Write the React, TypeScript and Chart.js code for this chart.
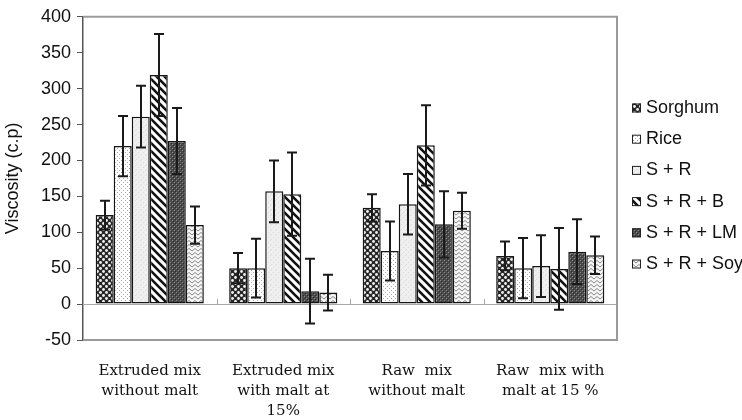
import React, { useEffect, useRef } from 'react';
import { Chart, registerables } from 'chart.js';

Chart.register(...registerables);

const categories: string[][] = [
  ['Extruded mix', 'without malt'],
  ['Extruded mix', 'with malt at', '15%'],
  ['Raw  mix', 'without malt'],
  ['Raw  mix with', 'malt at 15 %'],
];

const seriesNames = ['Sorghum', 'Rice', 'S + R', 'S + R + B', 'S + R + LM', 'S + R + Soy'];

const sorghum = [124, 50, 134, 67];
const sorghumErr = [20, 21, 19, 20];
const rice = [220, 50, 74, 50];
const riceErr = [42, 41, 41, 42];
const sr = [261, 157, 139, 53];
const srErr = [43, 43, 42, 43];
const srb = [319, 153, 221, 49];
const srbErr = [57, 58, 56, 57];
const srlm = [227, 18, 111, 73];
const srlmErr = [46, 45, 46, 45];
const srsoy = [110, 16, 130, 68];
const srsoyErr = [26, 25, 25, 26];

const yTicks = [-50, 0, 50, 100, 150, 200, 250, 300, 350, 400];

const seriesValues = [sorghum, rice, sr, srb, srlm, srsoy];
const seriesErrors = [sorghumErr, riceErr, srErr, srbErr, srlmErr, srsoyErr];

function makePattern(w: number, h: number, draw: (g: CanvasRenderingContext2D) => void) {
  const c = document.createElement('canvas');
  c.width = w;
  c.height = h;
  const g = c.getContext('2d') as CanvasRenderingContext2D;
  draw(g);
  return g.createPattern(c, 'repeat') as CanvasPattern;
}

function buildPatterns() {
  const sorghumP = makePattern(6, 6, (g) => {
    g.fillStyle = '#262626';
    g.fillRect(0, 0, 6, 6);
    g.fillStyle = '#f2f2f2';
    g.beginPath();
    g.arc(1.5, 1.5, 1.4, 0, Math.PI * 2);
    g.fill();
    g.beginPath();
    g.arc(4.5, 4.5, 1.4, 0, Math.PI * 2);
    g.fill();
  });
  const riceP = makePattern(4, 4, (g) => {
    g.fillStyle = '#ffffff';
    g.fillRect(0, 0, 4, 4);
    g.fillStyle = '#dc8ea2';
    g.fillRect(1, 0, 1, 1);
    g.fillRect(3, 2, 1, 1);
  });
  const srP = makePattern(5, 5, (g) => {
    g.fillStyle = '#efefef';
    g.fillRect(0, 0, 5, 5);
    g.fillStyle = '#dcdcdc';
    g.fillRect(0, 0, 1, 1);
    g.fillRect(3, 2, 1, 1);
    g.fillRect(1, 4, 1, 1);
  });
  const srbP = makePattern(8, 8, (g) => {
    g.fillStyle = '#ffffff';
    g.fillRect(0, 0, 8, 8);
    g.strokeStyle = '#111111';
    g.lineWidth = 2.6;
    g.beginPath();
    g.moveTo(-2, -2);
    g.lineTo(10, 10);
    g.moveTo(-2, 6);
    g.lineTo(2, 10);
    g.moveTo(6, -2);
    g.lineTo(10, 2);
    g.stroke();
  });
  const lmP = makePattern(4, 4, (g) => {
    g.fillStyle = '#4c4c4c';
    g.fillRect(0, 0, 4, 4);
    g.fillStyle = '#8c8c8c';
    g.fillRect(0, 0, 1, 1);
    g.fillRect(2, 2, 1, 1);
    g.fillStyle = '#2a2a2a';
    g.fillRect(1, 1, 1, 1);
    g.fillRect(3, 3, 1, 1);
  });
  const soyP = makePattern(6, 4, (g) => {
    g.fillStyle = '#f6f6f6';
    g.fillRect(0, 0, 6, 4);
    g.strokeStyle = '#8a8a8a';
    g.lineWidth = 1;
    g.beginPath();
    g.moveTo(0, 3);
    g.lineTo(3, 0.5);
    g.lineTo(6, 3);
    g.stroke();
  });
  return [sorghumP, riceP, srP, srbP, lmP, soyP];
}

const frameColor = '#9a9a9a';

const decorPlugin = {
  id: 'decor',
  beforeDatasetsDraw(chart: any) {
    const { ctx, chartArea, scales } = chart;
    const y0 = scales.y.getPixelForValue(0);
    ctx.save();
    ctx.strokeStyle = '#a8a8a8';
    ctx.lineWidth = 1;
    ctx.beginPath();
    ctx.moveTo(chartArea.left, Math.round(y0) + 0.5);
    ctx.lineTo(chartArea.right, Math.round(y0) + 0.5);
    const n = chart.data.labels.length;
    const w = (chartArea.right - chartArea.left) / n;
    for (let i = 1; i < n; i++) {
      const x = Math.round(chartArea.left + i * w) + 0.5;
      ctx.moveTo(x, y0 - 5);
      ctx.lineTo(x, y0);
    }
    ctx.stroke();
    ctx.restore();
  },
  afterDatasetsDraw(chart: any) {
    const { ctx, scales } = chart;
    ctx.save();
    ctx.strokeStyle = '#1a1a1a';
    ctx.lineWidth = 2;
    chart.data.datasets.forEach((ds: any, i: number) => {
      const meta = chart.getDatasetMeta(i);
      meta.data.forEach((bar: any, j: number) => {
        const v = ds.data[j];
        const e = seriesErrors[i][j];
        const yT = scales.y.getPixelForValue(v + e);
        const yB = scales.y.getPixelForValue(v - e);
        const x = Math.round(bar.x);
        ctx.beginPath();
        ctx.moveTo(x, yT);
        ctx.lineTo(x, yB);
        ctx.moveTo(x - 5, yT);
        ctx.lineTo(x + 5, yT);
        ctx.moveTo(x - 5, yB);
        ctx.lineTo(x + 5, yB);
        ctx.stroke();
      });
    });
    ctx.restore();
  },
  afterDraw(chart: any) {
    const { ctx, chartArea } = chart;
    ctx.save();
    ctx.strokeStyle = frameColor;
    ctx.lineWidth = 2;
    ctx.beginPath();
    ctx.moveTo(chartArea.left, chartArea.top);
    ctx.lineTo(chartArea.right, chartArea.top);
    ctx.lineTo(chartArea.right, chartArea.bottom);
    ctx.lineTo(chartArea.left, chartArea.bottom);
    ctx.stroke();
    ctx.restore();

    // legend
    ctx.save();
    ctx.font = '18px "Liberation Sans", Arial, sans-serif';
    ctx.textBaseline = 'middle';
    ctx.textAlign = 'left';
    chart.data.datasets.forEach((ds: any, i: number) => {
      const yc = 108 + i * 31.2;
      const bx = 632;
      ctx.fillStyle = ds.backgroundColor;
      ctx.fillRect(bx, yc - 4.5, 9, 9);
      ctx.strokeStyle = '#222';
      ctx.lineWidth = 1;
      ctx.strokeRect(bx + 0.5, yc - 4, 8, 8);
      ctx.fillStyle = '#111';
      ctx.fillText(ds.label, 646, yc);
    });
    ctx.restore();
  },
};

export default function App() {
  const ref = useRef<HTMLCanvasElement | null>(null);
  useEffect(() => {
    if (!ref.current) return;
    const patterns = buildPatterns();
    const chart = new Chart(ref.current, {
      type: 'bar',
      data: {
        labels: categories,
        datasets: seriesNames.map((name, i) => ({
          label: name,
          data: seriesValues[i],
          backgroundColor: patterns[i],
          borderColor: '#151515',
          borderWidth: 1.5,
          borderSkipped: false,
          categoryPercentage: 0.81,
          barPercentage: 1.0,
        })),
      },
      options: {
        animation: false,
        responsive: false,
        maintainAspectRatio: false,
        layout: { padding: { top: 7, right: 125, left: 0, bottom: 0 } },
        plugins: {
          legend: { display: false },
          tooltip: { enabled: false },
        },
        scales: {
          x: {
            grid: { display: false },
            border: { display: false },
            afterFit: (s: any) => {
              s.height = 80;
            },
            ticks: {
              color: '#111',
              padding: 13,
              maxRotation: 0,
              autoSkip: false,
              font: { family: '"DejaVu Serif", serif', size: 15, lineHeight: 1.33 },
            },
          },
          y: {
            min: -50,
            max: 400,
            afterFit: (s: any) => {
              s.width = 83;
            },
            afterBuildTicks: (s: any) => {
              s.ticks = yTicks.map((v) => ({ value: v }));
            },
            grid: {
              drawOnChartArea: false,
              drawTicks: true,
              tickLength: 6,
              color: '#555',
            },
            border: { display: true, color: '#555', width: 1.5 },
            ticks: {
              color: '#111',
              padding: 6,
              font: { family: '"Liberation Sans", Arial, sans-serif', size: 18 },
            },
            title: {
              display: true,
              text: 'Viscosity (c.p)',
              color: '#111',
              padding: { top: 2, bottom: 0 },
              font: { family: '"Liberation Sans", Arial, sans-serif', size: 18 },
            },
          },
        },
      },
      plugins: [decorPlugin],
    });
    return () => chart.destroy();
  }, []);
  return (
    <div style={{ position: 'absolute', left: 0, top: 0, width: 742, height: 420, background: '#fff' }}>
      <canvas ref={ref} width={742} height={420} style={{ width: 742, height: 420 }} />
    </div>
  );
}
